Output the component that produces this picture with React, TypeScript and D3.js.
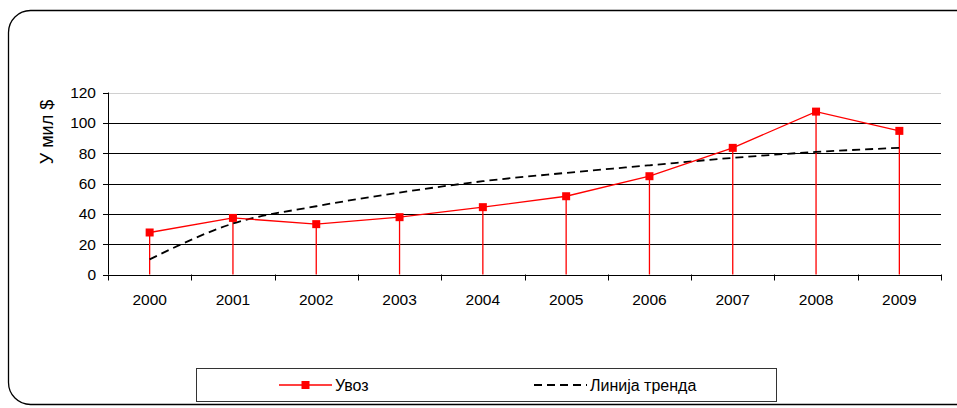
import React from "react";
import * as d3 from "d3";

const years = ["2000", "2001", "2002", "2003", "2004", "2005", "2006", "2007", "2008", "2009"];
const imports = [27.7, 37.3, 33.2, 37.8, 44.4, 51.6, 64.8, 83.5, 107.4, 94.7];
const trend = [10, 33.6, 45, 54, 61.5, 67, 72, 76.9, 80.8, 83.5];
const yTicks = [0, 20, 40, 60, 80, 100, 120];
const seriesName = "Увоз";
const trendName = "Линија тренда";
const yTitle = "У мил $";

const W = 957;
const H = 408;
const left = 108;
const right = 941;
const top = 92.5;
const bottom = 274.5;

export default function App() {
  const x = d3.scaleBand<string>().domain(years).range([left, right]);
  const y = d3.scaleLinear().domain([0, 120]).range([bottom, top]);
  const cx = (d: string) => (x(d) as number) + x.bandwidth() / 2;

  const line = d3
    .line<number>()
    .x((_, i) => cx(years[i]))
    .y((d) => y(d));
  const trendLine = d3
    .line<number>()
    .x((_, i) => cx(years[i]))
    .y((d) => y(d))
    .curve(d3.curveMonotoneX);

  const font = "'Liberation Sans', Arial, sans-serif";
  const boundaries = years.map((d) => x(d) as number).concat([right]);

  return (
    <svg
      width={W}
      height={H}
      style={{ position: "absolute", left: 0, top: 0, display: "block" }}
      fontFamily={font}
    >
      <rect x={0} y={0} width={W} height={H} fill="#fff" />
      <rect x={8.5} y={10.5} width={975} height={394} rx={22} ry={22} fill="#fff" stroke="#000" strokeWidth={1.3} />

      {/* gridlines */}
      {yTicks.slice(1).map((t) => (
        <line
          key={t}
          x1={left}
          x2={right}
          y1={Math.round(y(t)) + 0.5}
          y2={Math.round(y(t)) + 0.5}
          stroke={t === 120 ? "#d0d0d0" : "#000"}
          strokeWidth={1}
        />
      ))}

      {/* axes */}
      <line x1={left + 0.5} x2={left + 0.5} y1={top} y2={bottom} stroke="#000" />
      <line x1={left} x2={right} y1={Math.round(bottom) + 0.5} y2={Math.round(bottom) + 0.5} stroke="#000" />
      {yTicks.map((t) => (
        <g key={t}>
          <line x1={left - 5} x2={left} y1={Math.round(y(t)) + 0.5} y2={Math.round(y(t)) + 0.5} stroke="#000" />
          <text x={left - 12} y={y(t)} dy="0.35em" textAnchor="end" fontSize={15.5} fill="#000">
            {t}
          </text>
        </g>
      ))}
      {boundaries.map((b, i) => (
        <line key={i} x1={Math.round(b) + 0.5} x2={Math.round(b) + 0.5} y1={bottom} y2={bottom + 6} stroke="#000" />
      ))}
      {years.map((d) => (
        <text key={d} x={cx(d)} y={300} dy="0.35em" textAnchor="middle" fontSize={15.5} fill="#000">
          {d}
        </text>
      ))}
      <text
        transform={`translate(47,132) rotate(-90)`}
        textAnchor="middle"
        dy="0.35em"
        fontSize={18}
        fill="#000"
      >
        {yTitle}
      </text>

      {/* drop lines */}
      {imports.map((v, i) => (
        <line
          key={i}
          x1={cx(years[i])}
          x2={cx(years[i])}
          y1={y(v)}
          y2={bottom}
          stroke="#ff0000"
          strokeWidth={1.3}
        />
      ))}

      {/* trend line */}
      <path d={trendLine(trend) || ""} fill="none" stroke="#000" strokeWidth={1.8} strokeDasharray="8,5" />

      {/* series */}
      <path d={line(imports) || ""} fill="none" stroke="#ff0000" strokeWidth={1.3} />
      {imports.map((v, i) => (
        <rect key={i} x={cx(years[i]) - 4} y={y(v) - 4} width={8} height={8} fill="#ff0000" />
      ))}

      {/* legend */}
      <rect x={196.5} y={368.5} width={580} height={33} fill="#fff" stroke="#333" strokeWidth={1} />
      <line x1={279} x2={332} y1={385} y2={385} stroke="#ff0000" strokeWidth={1.3} />
      <rect x={301.5} y={381} width={8} height={8} fill="#ff0000" />
      <text x={335} y={385} dy="0.35em" fontSize={16} fill="#000">
        {seriesName}
      </text>
      <line x1={534} x2={587} y1={385} y2={385} stroke="#000" strokeWidth={1.8} strokeDasharray="8,5" />
      <text x={590} y={385} dy="0.35em" fontSize={16} fill="#000">
        {trendName}
      </text>
    </svg>
  );
}
